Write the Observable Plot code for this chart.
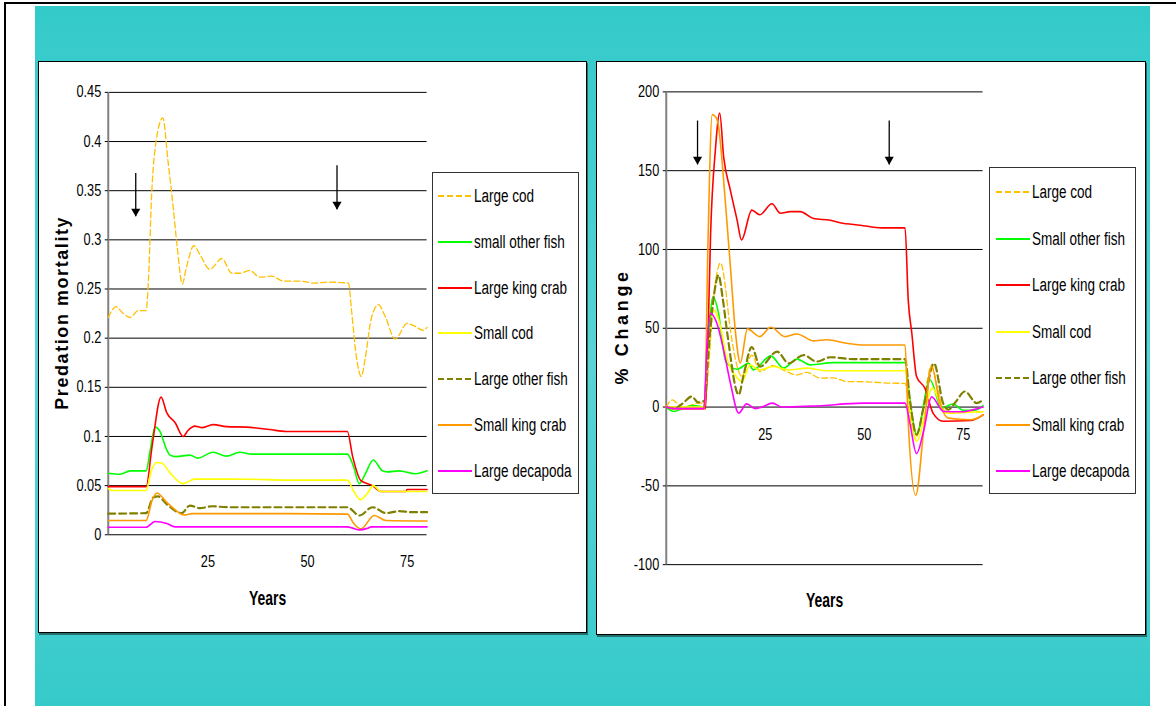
<!DOCTYPE html>
<html>
<head>
<meta charset="utf-8">
<script src="https://cdn.jsdelivr.net/npm/d3@7"></script>
<script src="https://cdn.jsdelivr.net/npm/@observablehq/plot@0.6"></script>
<style>
html, body { margin:0; padding:0; background:#fff; width:1176px; height:706px; overflow:hidden; }
body { position:relative; font-family:"Liberation Sans",Arial,sans-serif; }
#topline { position:absolute; left:5px; top:2px; width:1171px; height:2px; background:#000; }
#leftline { position:absolute; left:4px; top:2px; width:1.5px; height:704px; background:#000; }
#teal { position:absolute; left:35px; top:6px; width:1115px; height:700px;
        background:linear-gradient(#34caca 0%, #47cfcf 30%, #5ad3d4 50%, #4ccfd0 75%, #35caca 100%); }
.panel { position:absolute; background:#fff; border:1px solid #000; box-sizing:border-box; box-shadow:1px 2px 0 #23706f; }
.panel svg { position:absolute; left:-1px; top:-1px; overflow:visible; }
.legend { position:absolute; border:1px solid #333; background:#fff; box-sizing:border-box; }
.legend .item { position:absolute; left:0; height:24px; width:100%; }
.legend .item svg { position:absolute; top:10px; }
.legend .item span { position:absolute; top:1px; font-size:18px; line-height:22px; color:#000; white-space:nowrap;
                     transform:scaleX(0.75); transform-origin:0 50%; }
</style>
</head>
<body>
<div id="topline"></div>
<div id="leftline"></div>
<div id="teal"></div>
<div class="panel" id="p1" style="left:38px;top:61px;width:549px;height:572px;"></div>
<div class="panel" id="p2" style="left:596px;top:61px;width:550px;height:574px;"></div>
<script>
// ---------- shared ----------
const yearTicks = [25, 50, 75];
const mortTicks = [0, 0.05, 0.1, 0.15, 0.2, 0.25, 0.3, 0.35, 0.4, 0.45];
const pctTicks = [-100, -50, 0, 50, 100, 150, 200];
const titleMort = "Predation mortality";
const titlePct = "% Change";
const titleYears = "Years";

const namesLeft = ["Large cod", "small other fish", "Large king crab", "Small cod", "Large other fish", "Small king crab", "Large decapoda"];
const namesRight = ["Large cod", "Small other fish", "Large king crab", "Small cod", "Large other fish", "Small king crab", "Large decapoda"];
const seriesColors = ["#FFC000", "#00FF00", "#FF0000", "#FFFF00", "#808000", "#FF9900", "#FF00FF"];
const seriesDash = ["6,3", null, null, null, "7,4", null, null];
const seriesWidth = [1.3, 1.6, 1.6, 1.6, 2.2, 1.6, 1.6];

// ---------- left: predation mortality [year, value] ----------
const mortLargeCod = [[0,0.221],[2,0.232],[3.5,0.226],[5.5,0.221],[7.5,0.228],[9.5,0.228],[10.1,0.26],[10.9,0.347],[12,0.40],[13.7,0.424],[15,0.38],[16.3,0.333],[17.3,0.293],[18.6,0.255],[19.5,0.27],[21.5,0.294],[23,0.285],[25.5,0.270],[28.5,0.281],[31,0.266],[33,0.266],[35.5,0.269],[38,0.262],[41,0.263],[44,0.258],[48,0.258],[52,0.256],[55,0.257],[60.3,0.256],[61,0.23],[62.3,0.18],[63.5,0.161],[64.5,0.18],[66,0.22],[67.8,0.234],[69.5,0.222],[72,0.199],[75,0.215],[77,0.212],[79,0.208],[80,0.211]];
const mortSmallOtherFish = [[0,0.0625],[3,0.0615],[5.5,0.065],[9.5,0.065],[10.5,0.085],[11.75,0.1095],[13,0.105],[14.5,0.088],[15.5,0.081],[17,0.0795],[20.5,0.081],[22.5,0.078],[26.3,0.084],[29.7,0.080],[33,0.084],[36,0.082],[45,0.082],[60,0.082],[61.5,0.07],[63,0.052],[64.5,0.062],[66.5,0.076],[68.8,0.065],[70,0.064],[73,0.065],[77,0.062],[80,0.065]];
const mortLargeKingCrab = [[0,0.049],[9.5,0.049],[11,0.09],[13.25,0.140],[14.7,0.124],[16.8,0.114],[18.8,0.100],[20,0.106],[21.75,0.1105],[23.4,0.109],[26.3,0.112],[29.7,0.110],[34.7,0.1095],[40.5,0.107],[44.7,0.105],[60,0.105],[61.3,0.08],[63.4,0.055],[66.3,0.050],[68.4,0.044],[74.7,0.044],[75,0.046],[80,0.046]];
const mortSmallCod = [[0,0.047],[1,0.045],[9.5,0.045],[10.8,0.065],[12.2,0.0735],[13.4,0.073],[15.5,0.063],[18.8,0.052],[21.75,0.0566],[25.5,0.0566],[35,0.0565],[45,0.0556],[60,0.0556],[61.5,0.045],[63.25,0.0357],[65,0.042],[66.5,0.050],[68.4,0.044],[80,0.044]];
const mortLargeOtherFish = [[0,0.0215],[9.5,0.022],[11.3,0.038],[12.5,0.039],[14.7,0.031],[18.4,0.022],[20.5,0.0297],[23,0.027],[26,0.029],[30,0.028],[60,0.028],[63,0.0196],[66.3,0.028],[69.7,0.022],[73,0.024],[76,0.023],[80,0.023]];
const mortSmallKingCrab = [[0,0.0145],[9.5,0.0145],[11,0.035],[12.2,0.0425],[14.7,0.033],[19.25,0.020],[21,0.0215],[45,0.0215],[60,0.021],[61.5,0.012],[63.4,0.006],[66.75,0.0196],[69.7,0.0145],[80,0.014]];
const mortLargeDecapoda = [[0,0.0077],[9.5,0.0077],[11.75,0.0135],[14.7,0.0115],[16.75,0.008],[60,0.008],[61.5,0.0065],[63,0.005],[65,0.0065],[66,0.008],[80,0.008]];
const mortArrows = [{year:6.9, from:0.368, to:0.324}, {year:57.4, from:0.376, to:0.331}];

// ---------- right: % change [year, value] ----------
const pctLargeCod = [[0,0],[1.5,4.5],[3,2],[4.5,0],[6,1],[8,2.5],[9.7,2.5],[10.5,20],[12,70],[13.7,91.5],[15,75],[15.8,57],[17.5,30],[19.1,19.4],[20.5,28],[21.6,33],[23.7,22.5],[26.8,26.3],[30.4,22.5],[33,20.4],[35.5,22],[38.9,18.4],[42.2,18.5],[45.6,16.2],[50.6,16],[56.5,15.2],[60.3,15],[61.5,-5],[63,-20],[64.5,-5],[67,26.5],[68.5,12],[70,-1.7],[72,-4],[76,-3],[80,-3]];
const pctSmallOtherFish = [[0,0],[2,-2.8],[5,0],[7,1],[9.5,0],[10.3,30],[11.8,70],[13.2,59.5],[14.9,30],[16.2,25.7],[17.9,24],[20.8,27.8],[22,23.6],[26.4,32.5],[29.6,24.7],[33,30.4],[36.4,26.8],[42.2,28.2],[60.3,28.2],[61.5,5],[63.2,-17.5],[66.6,17.3],[69.5,-0.6],[72.4,1.9],[75,-2],[78,-2],[80,1]];
const pctLargeKingCrab = [[0,0],[2,-1],[9.9,-1],[10.5,40],[11.2,110],[12.4,163],[13.5,186.5],[14.5,158.6],[16.2,137.5],[17.9,118.5],[19,106],[21.6,125],[23.6,122],[26.7,129],[28.8,123],[31.3,124],[33.8,124],[37.2,119.6],[41.4,118.5],[43.9,117],[49,115.4],[54.4,113.7],[60.3,113.7],[61.1,68],[62,47],[63.2,19.4],[65.3,12],[67.4,-4],[69.9,-9],[77,-8.5],[80,-5]];
const pctSmallCod = [[0,0],[9.5,0],[10.5,30],[12,61.6],[13.7,51],[15.4,30],[17.5,20],[19.1,16.2],[21.2,26.8],[23.4,23.6],[27.1,25.7],[30.9,23.6],[35.5,24.7],[40.5,23],[60.3,23],[61.5,0],[63.2,-21.8],[67.2,12],[70.4,-3.8],[80,-3]];
const pctLargeOtherFish = [[0,0],[2,-1],[4,2],[6.5,6.7],[8,3],[9.7,4],[10.5,30],[12,70],[13.2,83.7],[14.2,70],[15.4,47],[18.3,7.8],[19.5,20],[21.6,38],[23.7,25.7],[28,35.2],[30.9,27.8],[34.7,33],[38,28.9],[41.4,31.6],[47.3,30.4],[60.3,30.4],[61.5,5],[63.2,-17.5],[65,0],[67.6,27.8],[69.9,2.5],[71.2,-1.7],[73,3],[75.4,9.9],[78.4,2.5],[80,4.6]];
const pctSmallKingCrab = [[0,0],[2,-1],[9.7,-1],[10.5,100],[11.6,185.6],[12.5,184],[13,181],[14.9,131],[16.2,89],[17.5,47],[18.7,28],[20.5,49.6],[23.6,44.7],[26.4,50.6],[30,44.7],[33,46.4],[37.2,42],[40.5,42.7],[45.6,40.5],[49.8,39.4],[60.3,39.4],[61.1,-10],[63,-56],[65,-15],[67,25.7],[69.1,2.5],[71.2,-7],[77,-8],[80,-5]];
const pctLargeDecapoda = [[0,0],[2,-1],[9.5,-1],[10.3,40],[11.2,59.5],[12.8,53],[14.5,36],[16.2,15.2],[18.3,-3.8],[20.3,2],[22.6,-1],[24.2,0],[26.8,2.5],[29.3,0],[35,0.5],[40,1],[45,2],[50,2.5],[60.3,2.5],[61.5,-10],[63.2,-29.5],[65,-15],[67,6.5],[70,-2.8],[75,-3],[77,-2],[80,0]];
const pctArrows = [{year:7.9, from:181.8, to:154}, {year:56.3, from:181.8, to:154}];

const mortSeries = [mortLargeCod, mortSmallOtherFish, mortLargeKingCrab, mortSmallCod, mortLargeOtherFish, mortSmallKingCrab, mortLargeDecapoda];
const pctSeries = [pctLargeCod, pctSmallOtherFish, pctLargeKingCrab, pctSmallCod, pctLargeOtherFish, pctSmallKingCrab, pctLargeDecapoda];

const FONT = '"Liberation Sans",Arial,sans-serif';

function lineMarks(seriesList) {
  return seriesList.map((data, i) => Plot.line(data, {
    x: d => d[0], y: d => d[1],
    stroke: seriesColors[i], strokeWidth: seriesWidth[i],
    strokeDasharray: seriesDash[i], curve: "monotone-x"
  }));
}
function arrowMarks(arrows) {
  return [
    Plot.link(arrows, {x1: "year", x2: "year", y1: "from", y2: "to", stroke: "#000", strokeWidth: 1.3}),
    Plot.dot(arrows, {x: "year", y: "to", symbol: "triangle", rotate: 180, r: 3.4, fill: "#000", stroke: null, dy: -5})
  ];
}
function textsWith(svg, contents) {
  const set = new Set(contents.map(String));
  return [...svg.querySelectorAll("text")].filter(t => set.has(t.textContent.trim()));
}
// squeeze glyphs horizontally (reference uses a narrow face) without moving the anchor
function condense(texts, factor) {
  texts.forEach(t => {
    const w = t.getComputedTextLength();
    if (w > 0) {
      t.setAttribute("textLength", (w * factor).toFixed(2));
      t.setAttribute("lengthAdjust", "spacingAndGlyphs");
    }
  });
}
// spread letters to a given run length
function spread(texts, length) {
  texts.forEach(t => {
    t.setAttribute("textLength", length);
    t.setAttribute("lengthAdjust", "spacing");
  });
}

// ---------- left plot ----------
const left = Plot.plot({
  width: 549, height: 572,
  marginLeft: 70, marginTop: 31, marginRight: 159, marginBottom: 97,
  x: {domain: [0, 80]},
  y: {domain: [0, 0.45]},
  style: {background: "transparent", fontFamily: FONT, fontSize: "16px", color: "#000", overflow: "visible"},
  marks: [
    Plot.ruleY(mortTicks, {stroke: "#000", strokeWidth: 1}),
    Plot.ruleX([0], {stroke: "#808080", strokeWidth: 2}),
    Plot.axisY({ticks: mortTicks, tickSize: 3, tickPadding: 4, tickFormat: d => String(d), label: null, fontSize: 16}),
    Plot.axisX({ticks: yearTicks, tickSize: 0, tickPadding: 21, label: null, fontSize: 16}),
    ...lineMarks(mortSeries),
    ...arrowMarks(mortArrows),
    Plot.text([titleMort], {frameAnchor: "left", dx: -46, rotate: -90, textAnchor: "middle", lineAnchor: "middle", fontWeight: "bold", fontSize: 18}),
    Plot.text([titleYears], {frameAnchor: "bottom", dy: 64, lineAnchor: "middle", fontWeight: "bold", fontSize: 20})
  ]
});
document.getElementById("p1").appendChild(left);

// ---------- right plot ----------
const right = Plot.plot({
  width: 550, height: 574,
  marginLeft: 70, marginTop: 30.5, marginRight: 162, marginBottom: 69,
  x: {domain: [0, 80], axis: null},
  y: {domain: [-100, 200]},
  style: {background: "transparent", fontFamily: FONT, fontSize: "16px", color: "#000", overflow: "visible"},
  marks: [
    Plot.ruleY(pctTicks, {stroke: "#000", strokeWidth: 1}),
    Plot.ruleX([0], {stroke: "#808080", strokeWidth: 2}),
    Plot.axisY({ticks: pctTicks, tickSize: 3, tickPadding: 4, tickFormat: d => String(d), label: null, fontSize: 16}),
    Plot.text(yearTicks, {x: d => d, y: d => 0, dy: 22, lineAnchor: "top", fontSize: 16}),
    ...lineMarks(pctSeries),
    ...arrowMarks(pctArrows),
    Plot.text([titlePct], {frameAnchor: "left", dx: -44, rotate: -90, textAnchor: "middle", lineAnchor: "middle", fontWeight: "bold", fontSize: 18}),
    Plot.text([titleYears], {frameAnchor: "bottom", dy: 36, lineAnchor: "middle", fontWeight: "bold", fontSize: 20})
  ]
});
document.getElementById("p2").appendChild(right);

for (const svg of [left, right]) {
  condense(textsWith(svg, [...mortTicks, ...pctTicks, ...yearTicks]), 0.8);
  condense(textsWith(svg, [titleYears]), 0.7);
}
spread(textsWith(left, [titleMort]), 193);
spread(textsWith(right, [titlePct]), 113);

// ---------- legends ----------
function addLegend(names, box, firstRow, step, textX, swatchX) {
  const lg = document.createElement("div");
  lg.className = "legend";
  Object.assign(lg.style, {left: box[0] + "px", top: box[1] + "px", width: box[2] + "px", height: box[3] + "px"});
  names.forEach((name, i) => {
    const it = document.createElement("div");
    it.className = "item";
    it.style.top = (firstRow + i * step - 12) + "px";
    const dash = seriesDash[i] ? ` stroke-dasharray="6,3"` : "";
    it.innerHTML = `<svg width="34" height="4" style="left:${swatchX}px"><line x1="0" x2="34" y1="2" y2="2" stroke="${seriesColors[i]}" stroke-width="2"${dash}/></svg><span style="left:${textX}px">${name}</span>`;
    lg.appendChild(it);
  });
  document.body.appendChild(lg);
}
addLegend(namesLeft, [432, 172, 147, 322], 23, 45.8, 41, 5);
addLegend(namesRight, [989, 167, 147, 327], 24, 46.5, 42, 6);
</script>
</body>
</html>
